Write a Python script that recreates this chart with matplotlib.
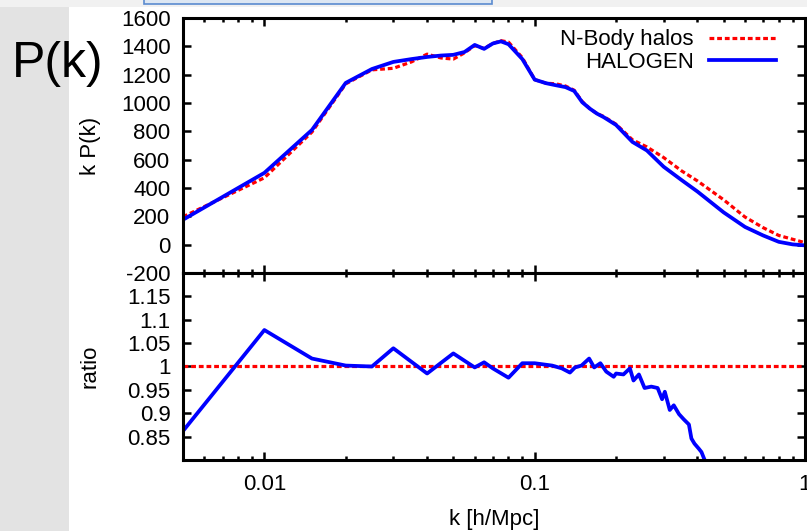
import numpy as np
import matplotlib
matplotlib.use('Agg')
import matplotlib.pyplot as plt
from matplotlib.patches import Rectangle
from matplotlib.ticker import FixedLocator, FixedFormatter, NullFormatter, LogLocator

plt.rcParams['font.family'] = ['Liberation Sans', 'DejaVu Sans']
plt.rcParams['axes.unicode_minus'] = False

# N-Body halos k P(k)
k_nbody = [0.005, 0.01, 0.015, 0.02, 0.025, 0.03, 0.035, 0.04, 0.045, 0.05,
           0.055, 0.06, 0.065, 0.07, 0.075, 0.08, 0.09, 0.1, 0.11, 0.12,
           0.13, 0.14, 0.15, 0.16, 0.17, 0.18, 0.2, 0.23, 0.26, 0.3,
           0.35, 0.4, 0.5, 0.6, 0.7, 0.8, 1.0]
pk_nbody = [197, 472, 795, 1135, 1234, 1245, 1290, 1345, 1318, 1310,
            1354, 1405, 1385, 1420, 1440, 1430, 1320, 1165, 1140, 1135,
            1120, 1090, 1010, 960, 925, 905, 850, 740, 690, 615,
            520, 450, 317, 195, 120, 65, 14]

# HALOGEN k P(k)
k_halogen = [0.005, 0.01, 0.015, 0.02, 0.025, 0.03, 0.035, 0.04, 0.045, 0.05,
             0.055, 0.06, 0.065, 0.07, 0.075, 0.08, 0.09, 0.1, 0.11, 0.12,
             0.13, 0.14, 0.15, 0.16, 0.17, 0.18, 0.2, 0.23, 0.26, 0.3,
             0.35, 0.4, 0.5, 0.6, 0.7, 0.8, 0.9, 1.0]
pk_halogen = [176, 507, 810, 1142, 1240, 1290, 1310, 1325, 1335, 1340,
              1360, 1410, 1382, 1420, 1435, 1415, 1310, 1165, 1140, 1125,
              1112, 1085, 1005, 960, 925, 900, 845, 725, 665, 550,
              455, 375, 228, 125, 65, 20, 2, -5]

# ratio HALOGEN / N-Body
k_ratio = [0.005, 0.01, 0.015, 0.02, 0.025, 0.03, 0.04, 0.05, 0.06, 0.065,
           0.07, 0.08, 0.09, 0.1, 0.116, 0.126, 0.135, 0.141, 0.149, 0.159,
           0.166, 0.175, 0.184, 0.196, 0.2, 0.213, 0.225, 0.232, 0.243, 0.255,
           0.27, 0.285, 0.296, 0.303, 0.316, 0.327, 0.342, 0.356, 0.372, 0.38,
           0.39, 0.405, 0.414, 0.424, 0.44]
ratio = [0.862, 1.078, 1.017, 1.002, 1.0, 1.039, 0.985, 1.028, 0.998, 1.009,
         0.996, 0.976, 1.007, 1.007, 1.002, 0.996, 0.987, 0.998, 1.002, 1.017,
         0.998, 1.007, 0.989, 0.978, 0.985, 0.983, 0.996, 0.970, 0.983, 0.954,
         0.957, 0.954, 0.930, 0.946, 0.907, 0.917, 0.898, 0.887, 0.876, 0.846,
         0.835, 0.824, 0.817, 0.802, 0.78]

xticks = [0.01, 0.1, 1]
xticklabels = ['0.01', '0.1', '1']
pk_ticks = [-200, 0, 200, 400, 600, 800, 1000, 1200, 1400, 1600]
ratio_ticks = [0.85, 0.9, 0.95, 1.0, 1.05, 1.1, 1.15]
ratio_labels = ['0.85', '0.9', '0.95', '1', '1.05', '1.1', '1.15']

W, H = 807, 531
fig = plt.figure(figsize=(W / 100, H / 100), dpi=100)
fig.patch.set_facecolor('white')

# slide background bits
fig.patches.append(Rectangle((0, 0), 69 / W, 1, transform=fig.transFigure,
                             facecolor='#e3e3e3', edgecolor='none', zorder=0))
fig.patches.append(Rectangle((0, 1 - 7 / H), 1, 7 / H, transform=fig.transFigure,
                             facecolor='#f1f1f1', edgecolor='none', zorder=0))
fig.patches.append(Rectangle((144 / W, 1 - 4 / H), 348 / W, 6 / H, transform=fig.transFigure,
                             facecolor='#dde7f3', edgecolor='#5b8bd0', linewidth=1.2, zorder=1))

left, right = 183 / W, 805 / W
top, mid, bot = 1 - 18 / H, 1 - 273 / H, 1 - 460 / H
ax1 = fig.add_axes([left, mid, right - left, top - mid])
ax2 = fig.add_axes([left, bot, right - left, mid - bot], sharex=ax1)

red = '#ff0000'
blue = '#0000ff'
fs = 16

ax1.plot(k_nbody, pk_nbody, color=red, lw=2.3, ls=(0, (1.5, 0.9)), label='N-Body halos')
ax1.plot(k_halogen, pk_halogen, color=blue, lw=2.7, label='HALOGEN')
ax2.axhline(1.0, color=red, lw=2.3, ls=(0, (1.5, 0.9)))
ax2.plot(k_ratio, ratio, color=blue, lw=2.7)

ax1.set_xscale('log')
ax1.set_xlim(0.005, 1)
ax1.set_ylim(-200, 1600)
ax2.set_ylim(0.8, 1.2)

ax1.set_yticks(pk_ticks)
ax2.yaxis.set_major_locator(FixedLocator(ratio_ticks))
ax2.yaxis.set_major_formatter(FixedFormatter(ratio_labels))
ax2.xaxis.set_major_locator(FixedLocator(xticks))
ax2.xaxis.set_major_formatter(FixedFormatter(xticklabels))
ax2.xaxis.set_minor_locator(LogLocator(base=10, subs=np.arange(2, 10)))
ax2.xaxis.set_minor_formatter(NullFormatter())
plt.setp(ax1.get_xticklabels(), visible=False)

for ax in (ax1, ax2):
    for sp in ax.spines.values():
        sp.set_linewidth(2.2)
    ax.tick_params(which='both', direction='in', top=True, right=True,
                   labelsize=fs, pad=9, width=1.8)
    ax.tick_params(which='major', length=6)
    ax.tick_params(which='minor', length=3)
ax2.tick_params(axis='x', pad=10)

ax1.set_ylabel('k P(k)', fontsize=fs)
ax2.set_ylabel('ratio', fontsize=fs)
ax1.yaxis.set_label_coords(-0.132, 0.5)
ax2.yaxis.set_label_coords(-0.132, 0.5)
ax2.set_xlabel('k [h/Mpc]', fontsize=fs, labelpad=10)

ax1.legend(loc='upper right', bbox_to_anchor=(0.953, 0.955), frameon=False,
           markerfirst=False, fontsize=fs, handlelength=3.0, handletextpad=0.7,
           labelspacing=0.05, borderpad=0, borderaxespad=0)

fig.text(12 / W, 1 - 77 / H, 'P(k)', fontsize=36, va='baseline', ha='left', zorder=5)

fig.savefig('out.png', dpi=100, facecolor=fig.get_facecolor())
